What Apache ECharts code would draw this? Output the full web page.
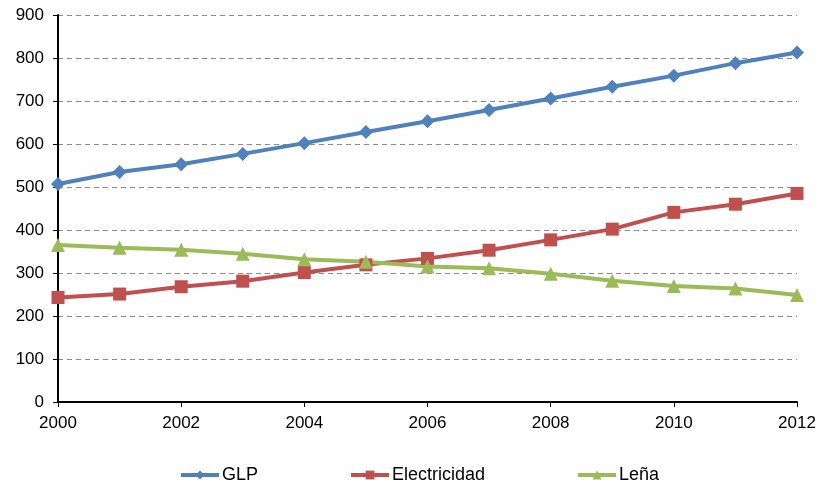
<!DOCTYPE html>
<html>
<head>
<meta charset="utf-8">
<script src="https://cdn.jsdelivr.net/npm/echarts@6/dist/echarts.min.js"></script>
<style>
  html, body { margin: 0; padding: 0; background: #fff; }
  #chart { width: 820px; height: 480px; }
</style>
</head>
<body>
<div id="chart"></div>
<script>
// Años y consumo por fuente
const years = [2000, 2001, 2002, 2003, 2004, 2005, 2006, 2007, 2008, 2009, 2010, 2011, 2012];
const glp = [507, 535, 553, 577, 602, 628, 653, 679, 706, 733, 759, 788, 813];
const electricidad = [243, 251, 268, 281, 301, 319, 334, 353, 377, 402, 441, 460, 485];
const lena = [365, 359, 354, 345, 332, 326, 315, 311, 298, 282, 270, 264, 249];

const seriesNames = ['GLP', 'Electricidad', 'Leña'];
const seriesColors = ['#4F81BD', '#C0504D', '#9BBB59'];
const seriesSymbols = ['diamond', 'rect', 'triangle'];
const seriesSizes = [14, 13, 14];
const seriesData = [glp, electricidad, lena];

const font = 'Liberation Sans, Arial, sans-serif';

const chart = echarts.init(document.getElementById('chart'), null, { renderer: 'canvas' });

chart.setOption({
  animation: false,
  backgroundColor: '#ffffff',
  grid: { left: 58, right: 23, top: 15, bottom: 78, containLabel: false },
  legend: {
    data: seriesNames,
    top: 461,
    left: 174,
    itemWidth: 38,
    itemHeight: 11,
    itemGap: 91,
    lineStyle: { width: 4 },
    textStyle: { fontFamily: font, fontSize: 18, color: '#000', padding: [0, 0, 0, -2] }
  },
  xAxis: {
    type: 'value',
    min: 2000,
    max: 2012,
    interval: 2,
    axisLine: { show: true, lineStyle: { color: '#000', width: 2 } },
    axisTick: { show: true, length: 5, lineStyle: { color: '#000', width: 1 } },
    axisLabel: { fontFamily: font, fontSize: 17, color: '#000', margin: 13, formatter: v => String(v) },
    splitLine: { show: false }
  },
  yAxis: {
    type: 'value',
    min: 0,
    max: 900,
    interval: 100,
    axisLine: { show: true, lineStyle: { color: '#000', width: 2 } },
    axisTick: { show: true, length: 5, lineStyle: { color: '#000', width: 1 } },
    axisLabel: { fontFamily: font, fontSize: 17, color: '#000', margin: 14 },
    splitLine: { show: true, lineStyle: { color: '#8c8c8c', width: 1, type: [5, 4] } }
  },
  series: seriesNames.map((name, i) => ({
    name: name,
    type: 'line',
    data: years.map((y, j) => [y, seriesData[i][j]]),
    symbol: seriesSymbols[i],
    symbolSize: seriesSizes[i],
    showAllSymbol: true,
    lineStyle: { color: seriesColors[i], width: 4 },
    itemStyle: { color: seriesColors[i], borderWidth: 0 },
    emphasis: { disabled: true }
  }))
});
</script>
</body>
</html>
